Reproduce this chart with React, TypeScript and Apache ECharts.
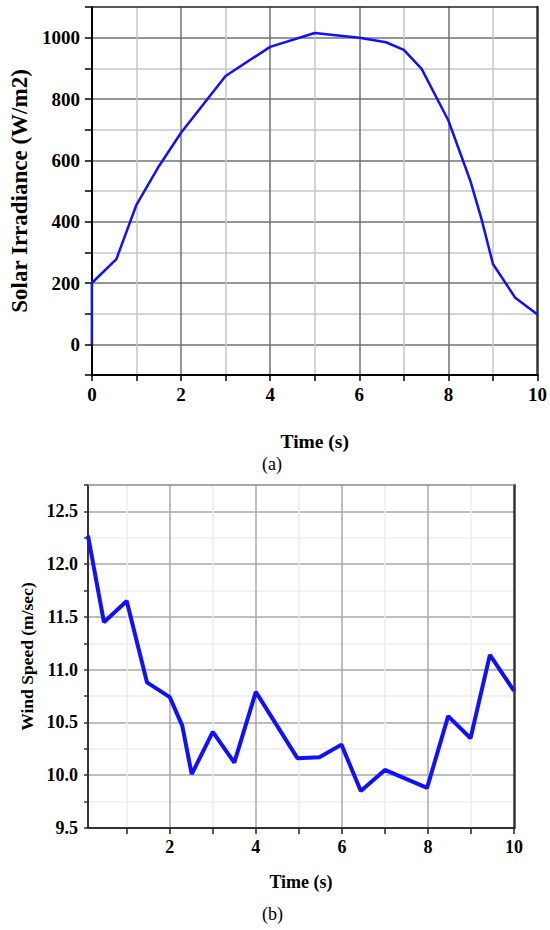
import React, { useEffect, useRef } from "react";
import * as echarts from "echarts";

// ---- Data: (a) Solar irradiance ----
const solarTime = [0, 0, 0.55, 1, 1.5, 2, 3, 4, 5, 6, 6.6, 7, 7.4, 8, 8.5, 8.75, 9, 9.5, 10];
const solarIrradiance = [0, 200, 278, 455, 580, 690, 875, 970, 1015, 1000, 985, 960, 898, 730, 530, 405, 262, 152, 97];

// ---- Data: (b) Wind speed ----
const windTime = [0.1, 0.47, 1.0, 1.47, 2.0, 2.29, 2.51, 3.0, 3.5, 4.0, 4.97, 5.48, 5.99, 6.44, 7.0, 7.98, 8.47, 8.99, 9.44, 10.0];
const windSpeed = [12.27, 11.45, 11.65, 10.88, 10.74, 10.47, 10.01, 10.41, 10.12, 10.79, 10.16, 10.17, 10.29, 9.85, 10.05, 9.88, 10.56, 10.35, 11.14, 10.8];

// ---- Tick values ----
const windTimeLabels = [2, 4, 6, 8, 10];
const windTimeTicks = [1, 2, 3, 4, 5, 6, 7, 8, 9, 10];

const SERIF = "'Liberation Serif', 'Times New Roman', serif";
const boldText = { fontFamily: SERIF, fontWeight: "bold" as const, color: "#000" };

const App: React.FC = () => {
  const ref = useRef<HTMLDivElement>(null);

  useEffect(() => {
    if (!ref.current) return;
    const chart = echarts.init(ref.current, undefined, { renderer: "svg" });

    const solarData = solarTime.map((t, i) => [t, solarIrradiance[i]]);
    const windData = windTime.map((t, i) => [t, windSpeed[i]]);

    const hidden = {
      axisTick: { show: false },
      axisLabel: { show: false },
      splitLine: { show: false },
    };

    chart.setOption({
      animation: false,
      backgroundColor: "#fff",
      grid: [
        { left: 81, top: 7, width: 457, height: 368, containLabel: false },
        { left: 88, top: 485, width: 426, height: 343, containLabel: false },
      ],
      xAxis: [
        {
          gridIndex: 0,
          type: "value",
          min: 0,
          max: 10,
          interval: 2,
          position: "bottom",
          axisLine: { show: true, onZero: false, lineStyle: { color: "#000", width: 2 } },
          axisTick: { show: true, inside: false, length: 6, lineStyle: { color: "#000", width: 1.5 } },
          minorTick: { show: true, splitNumber: 2, length: 6, lineStyle: { color: "#000", width: 1.5 } },
          axisLabel: { ...boldText, fontSize: 19, margin: 10 },
          splitLine: { show: true, showMinLine: false, showMaxLine: false, lineStyle: { color: "#727272", width: 1.5 } },
          minorSplitLine: { show: true, lineStyle: { color: "#c6c6c6", width: 1.5 } },
          name: "Time (s)",
          nameLocation: "middle",
          nameGap: 56,
          nameTextStyle: { ...boldText, fontSize: 19.5 },
        },
        {
          gridIndex: 0,
          type: "value",
          min: 0,
          max: 10,
          position: "top",
          axisLine: { show: true, onZero: false, lineStyle: { color: "#222", width: 1.5 } },
          ...hidden,
        },
        {
          gridIndex: 1,
          type: "value",
          min: 0.1,
          max: 10,
          position: "bottom",
          axisLine: { show: true, onZero: false, lineStyle: { color: "#333", width: 2 } },
          axisTick: { show: true, inside: false, length: 6, customValues: windTimeTicks, lineStyle: { color: "#222", width: 1.5 } },
          axisLabel: { ...boldText, fontSize: 18, margin: 10, customValues: windTimeLabels },
          splitLine: { show: true, showMaxLine: false, lineStyle: { color: ["#ececec", "#a8a8a8"], width: 1.5 } },
          name: "Time (s)",
          nameLocation: "middle",
          nameGap: 45,
          nameTextStyle: { ...boldText, fontSize: 18 },
        },
        {
          gridIndex: 1,
          type: "value",
          min: 0.1,
          max: 10,
          position: "top",
          axisLine: { show: true, onZero: false, lineStyle: { color: "#8a8a8a", width: 1.5 } },
          ...hidden,
        },
      ],
      yAxis: [
        {
          gridIndex: 0,
          type: "value",
          min: -100,
          max: 1100,
          interval: 100,
          position: "left",
          axisLine: { show: true, onZero: false, lineStyle: { color: "#000", width: 2 } },
          axisTick: { show: true, inside: false, length: 7, lineStyle: { color: "#000", width: 1.5 } },
          axisLabel: {
            ...boldText,
            fontSize: 19,
            margin: 12,
            formatter: (v: number) => (v >= 0 && v <= 1000 && v % 200 === 0 ? String(v) : ""),
          },
          splitLine: {
            show: true,
            showMinLine: false,
            showMaxLine: false,
            lineStyle: { color: ["#727272", "#c6c6c6"], width: 1.5 },
          },
          name: "Solar Irradiance (W/m2)",
          nameLocation: "middle",
          nameGap: 55,
          nameTextStyle: { ...boldText, fontSize: 23 },
        },
        {
          gridIndex: 0,
          type: "value",
          min: -100,
          max: 1100,
          position: "right",
          axisLine: { show: true, onZero: false, lineStyle: { color: "#333", width: 2.5 } },
          ...hidden,
        },
        {
          gridIndex: 1,
          type: "value",
          min: 9.5,
          max: 12.75,
          interval: 0.25,
          position: "left",
          axisLine: { show: true, onZero: false, lineStyle: { color: "#333", width: 2 } },
          axisTick: { show: true, inside: false, length: 4, lineStyle: { color: "#333", width: 1.5 } },
          axisLabel: {
            ...boldText,
            fontSize: 18,
            margin: 10,
            formatter: (v: number) => {
              const r = Math.round(v * 100);
              return r % 50 === 0 && v <= 12.5 ? v.toFixed(1) : "";
            },
          },
          splitLine: {
            show: true,
            showMinLine: false,
            showMaxLine: false,
            lineStyle: { color: ["#ececec", "#a8a8a8"], width: 1.5 },
          },
          name: "Wind Speed (m/sec)",
          nameLocation: "middle",
          nameGap: 41,
          nameTextStyle: { ...boldText, fontSize: 17.5 },
        },
        {
          gridIndex: 1,
          type: "value",
          min: 9.5,
          max: 12.75,
          position: "right",
          axisLine: { show: true, onZero: false, lineStyle: { color: "#333", width: 2.5 } },
          ...hidden,
        },
      ],
      series: [
        {
          type: "line",
          xAxisIndex: 0,
          yAxisIndex: 0,
          data: solarData,
          showSymbol: false,
          symbol: "none",
          z: 10,
          lineStyle: { color: "#1010ff", width: 2.5 },
        },
        {
          type: "line",
          xAxisIndex: 2,
          yAxisIndex: 2,
          data: windData,
          showSymbol: false,
          symbol: "none",
          z: 10,
          lineStyle: { color: "#1010ff", width: 4 },
        },
      ],
      graphic: [
        {
          type: "text",
          left: 262,
          top: 455,
          style: { text: "(a)", font: `18px ${SERIF}`, fill: "#000" },
        },
        {
          type: "text",
          left: 262,
          top: 905,
          style: { text: "(b)", font: `18px ${SERIF}`, fill: "#000" },
        },
      ],
    });

    return () => chart.dispose();
  }, []);

  return (
    <div
      ref={ref}
      style={{ position: "absolute", left: 0, top: 0, width: 550, height: 930, background: "#fff" }}
    />
  );
};

export default App;
